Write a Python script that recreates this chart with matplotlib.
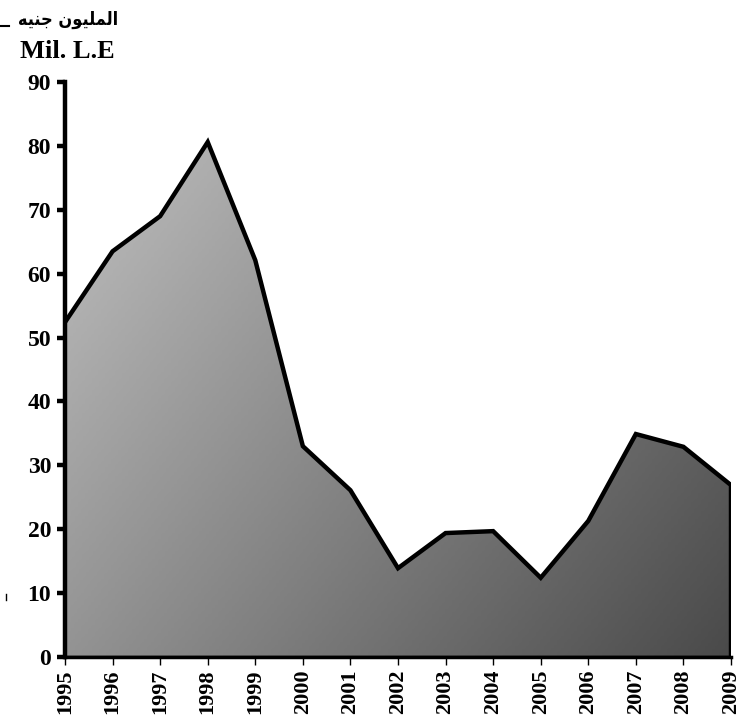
import numpy as np
import matplotlib
matplotlib.use("Agg")
import matplotlib.pyplot as plt
from matplotlib.lines import Line2D

# Data
years = [1995, 1996, 1997, 1998, 1999, 2000, 2001, 2002,
         2003, 2004, 2005, 2006, 2007, 2008, 2009]
values = [52.4, 63.5, 69.0, 80.6, 62.1, 33.0, 26.1, 13.9,
          19.4, 19.7, 12.4, 21.3, 34.9, 32.9, 26.9]
yticks = [0, 10, 20, 30, 40, 50, 60, 70, 80, 90]
unit_en = "Mil. L.E"
# "المليون جنيه" written with shaped presentation forms in visual order
unit_ar = "\ufeea\ufef4\ufee8\ufe9f \ufee5\ufeee\ufef4\ufee0\ufee4\ufedf\ufe8d"

plt.rcParams["font.family"] = ["Liberation Serif", "DejaVu Sans"]

fig = plt.figure(figsize=(7.4, 7.22), dpi=100)
ax = fig.add_axes([65 / 740, 65 / 722, 666 / 740, 575 / 722])

x = np.array(years, dtype=float)
y = np.array(values)

# gradient fill clipped to the area: light top-left, dark bottom-right
poly = ax.fill_between(x, 0, y, color="none", lw=0)
gx, gy = np.meshgrid(np.linspace(0, 1, 200), np.linspace(0, 1, 200))
grad = 0.6 * gx + 0.4 * gy
img = ax.imshow(grad, extent=[x[0], x[-1], 0, 90], origin="upper",
                cmap=matplotlib.colors.LinearSegmentedColormap.from_list(
                    "g", ["#c4c4c4", "#4a4a4a"]),
                aspect="auto", zorder=1)
path = poly.get_paths()[0]
img.set_clip_path(path, transform=ax.transData)

# outline: top line, right edge down to 0
ax.plot(np.r_[x, x[-1]], np.r_[y, 0], color="black", lw=3.2, zorder=3,
        solid_joinstyle="miter")
ax.plot([x[0], x[-1]], [0, 0], color="black", lw=2.5, zorder=3)

ax.set_xlim(x[0], x[-1])
ax.set_ylim(0, 90)
for s in ["top", "right"]:
    ax.spines[s].set_visible(False)
ax.spines["left"].set_linewidth(3.2)
ax.spines["bottom"].set_linewidth(2.5)

ax.set_yticks(yticks)
ax.set_yticklabels([str(v) for v in yticks], fontsize=17, fontweight="bold")
ax.tick_params(axis="y", length=6, width=3.2, pad=4)
ax.set_xticks(years)
ax.set_xticklabels([str(v) for v in years], rotation=90, fontsize=16,
                   fontweight="bold")
ax.tick_params(axis="x", length=6, width=1, pad=3)

fig.text(20 / 740, 1 - 52 / 722, unit_en, fontsize=19, fontweight="bold",
         va="center", ha="left")
fig.text(118 / 740, 1 - 20 / 722, unit_ar, fontsize=13, fontweight="bold",
         fontstretch="condensed", va="center", ha="right",
         family=["DejaVu Sans"])

fig.add_artist(Line2D([1 / 740, 9 / 740], [1 - 26 / 722, 1 - 26 / 722],
                      color="black", lw=1.5))
fig.add_artist(Line2D([6 / 740, 6 / 740], [1 - 594 / 722, 1 - 600 / 722],
                      color="black", lw=1))

fig.savefig("out.png", dpi=100)
